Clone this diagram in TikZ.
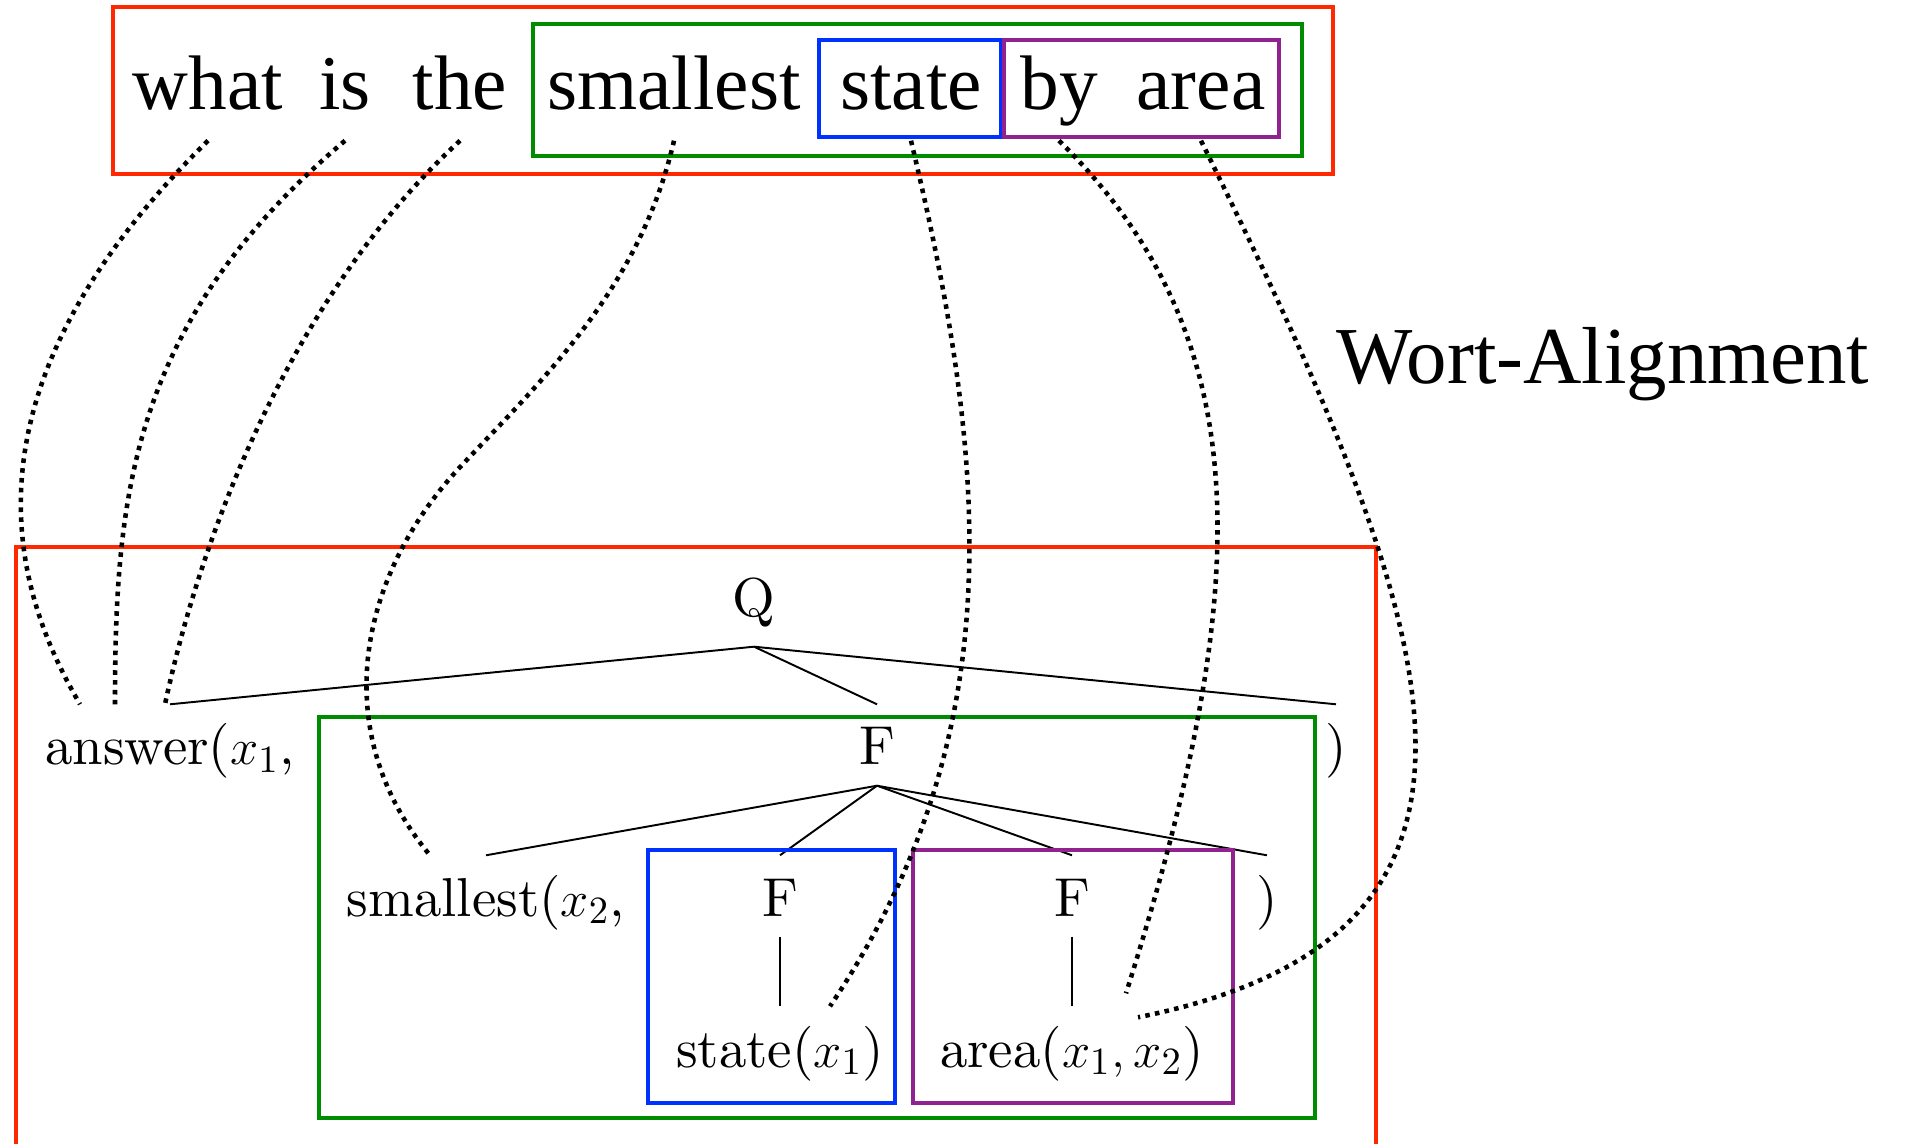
\documentclass[tikz,border=0pt]{standalone}
\usepackage{fontspec}
\usetikzlibrary{positioning,calc}
\newfontfamily\wordfont{Liberation Serif}
\newfontfamily\treefont{lmroman10-regular.otf}
\definecolor{boxred}{RGB}{255,40,0}
\definecolor{boxgreen}{RGB}{0,140,0}
\definecolor{boxblue}{RGB}{0,50,255}
\definecolor{boxpurple}{RGB}{145,35,145}
\tikzset{
  word/.style={font=\wordfont\fontsize{22}{26}\selectfont,inner sep=0pt,anchor=base,text depth=0.3cm},
  tnode/.style={font=\treefont\fontsize{15.6}{18}\selectfont,inner sep=0pt,anchor=base,text height=0.6cm,text depth=0.2cm},
  tedge/.style={line width=0.55pt},
  wlink/.style={line width=1.3pt,dash pattern=on 1.3pt off 1.5pt},
  redbox/.style={draw=boxred,line width=1.2pt},
  grnbox/.style={draw=boxgreen,line width=1.2pt},
  blubox/.style={draw=boxblue,line width=1.2pt},
  purbox/.style={draw=boxpurple,line width=1.2pt}
}

\begin{document}
\begin{tikzpicture}
  \useasboundingbox (0,0) rectangle (19.05,-11.44);
  % Sentence
  \node[word] (w1) at (2.08,-1.10) {what};
  \node[word] (w2) at (3.45,-1.10) {is};
  \node[word] (w3) at (4.60,-1.10) {the};
  \node[word] (w4) at (6.74,-1.10) {smallest};
  \node[word] (w5) at (9.11,-1.10) {state};
  \node[word] (w6) at (10.59,-1.10) {by};
  \node[word] (w7) at (12.01,-1.10) {area};

  % Sentence boxes
  \draw[redbox] (1.13,-0.07) rectangle (13.33,-1.74);
  \draw[grnbox] (5.33,-0.24) rectangle (13.02,-1.56);
  \draw[blubox] (8.19,-0.40) rectangle (10.01,-1.37);
  \draw[purbox] (10.04,-0.40) rectangle (12.79,-1.37);

  \node[word,font=\wordfont\fontsize{23}{28}\selectfont] (wlbl) at (16.03,-3.84) {Wort-Alignment};

  % Tree
  \node[tnode,text depth=0.29cm] (q) at (7.54,-6.17) {Q};
  \node[tnode] (ans) at (1.70,-7.65) {answer($x_1$,};
  \node[tnode] (f1) at (8.77,-7.65) {F};
  \node[tnode] (rp1) at (13.36,-7.65) {)};
  \node[tnode] (sm) at (4.86,-9.16) {smallest($x_2$,};
  \node[tnode] (f2) at (7.80,-9.16) {F};
  \node[tnode] (f3) at (10.72,-9.16) {F};
  \node[tnode] (rp2) at (12.67,-9.16) {)};
  \node[tnode] (st) at (7.80,-10.67) {state($x_1$)};
  \node[tnode] (ar) at (10.72,-10.67) {area($x_1,x_2$)};

  \foreach \t in {ans,f1,rp1}
    \draw[tedge] (q.south) -- (\t.north);
  \foreach \t in {sm,f2,f3,rp2}
    \draw[tedge] (f1.south) -- (\t.north);
  \draw[tedge] (f2.south) -- (st.north);
  \draw[tedge] (f3.south) -- (ar.north);

  % Tree boxes
  \draw[redbox] (0.16,-11.44) |- (13.76,-5.47) -- (13.76,-11.44);
  \draw[grnbox] (3.19,-7.17) rectangle (13.15,-11.18);
  \draw[blubox] (6.48,-8.50) rectangle (8.95,-11.03);
  \draw[purbox] (9.13,-8.50) rectangle (12.33,-11.03);

  % Alignment links
  \draw[wlink] (w1.south) .. controls (-0.55,-3.99) and (0.17,-5.96) .. ([xshift=-0.90cm]ans.north);
  \draw[wlink] (w2.south) .. controls (1.32,-3.21) and (1.15,-4.93) .. ([xshift=-0.55cm]ans.north);
  \draw[wlink] (w3.south) .. controls (3.04,-2.84) and (2.07,-5.08) .. ([xshift=-0.05cm]ans.north);
  \draw[wlink] (w4.south) .. controls (6.40,-2.88) and (5.44,-3.78) .. (4.62,-4.65)
    .. controls (3.59,-5.74) and (3.26,-7.30) .. ([xshift=-0.56cm]sm.north);
  \draw[wlink] (w5.south) .. controls (9.87,-4.59) and (10.15,-7.31) .. ([xshift=0.50cm]st.north);
  \draw[wlink] (w6.south) .. controls (12.64,-3.42) and (12.52,-5.94) .. ([xshift=0.54cm,yshift=0.13cm]ar.north);
  \draw[wlink] (w7.south) .. controls (14.40,-6.26) and (15.54,-9.34) .. ([xshift=0.66cm,yshift=-0.11cm]ar.north);

\end{tikzpicture}
\end{document}
